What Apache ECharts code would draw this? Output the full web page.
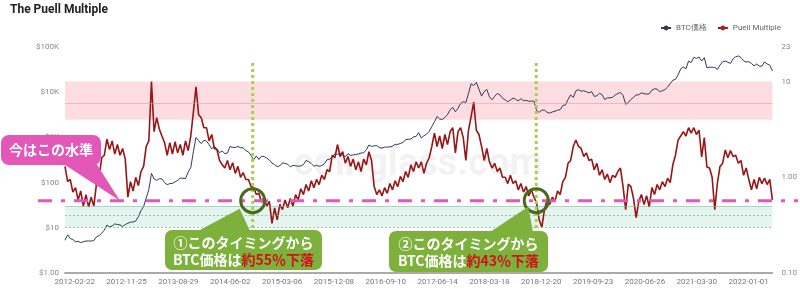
<!DOCTYPE html>
<html><head><meta charset="utf-8">
<script src="https://cdn.jsdelivr.net/npm/echarts@6/dist/echarts.min.js"></script>
<style>html,body{margin:0;padding:0;background:#fff}#c{width:800px;height:289px}</style>
</head><body><div id="c"></div>
<script>
// ---- data (sampled every 14 days from startDate) ----
const startDate = '2012-01-01';
const stepDays = 14;
const endDate = '2022-05-08';
const btcPrice = [
5.3,7.0,5.8,5.5,4.9,5.0,4.7,4.9,5.1,5.1,
5.1,5.2,6.3,6.7,7.6,8.9,11.5,10.5,11.0,12.2,
11.8,11.6,10.7,11.8,12.6,13.3,13.4,14.2,17.5,24,
29.5,46,70,160,120,112,122,121,100,90,
95,96,104,112,125,125,123,170,215,480,
1000,850,730,860,830,690,560,630,560,460,
500,440,450,630,600,600,630,590,590,510,
480,400,320,390,325,385,375,350,315,270,
250,225,235,275,265,255,223,240,236,230,
234,250,310,290,265,230,240,230,238,262,
320,330,370,440,420,448,400,375,438,400,
410,420,430,450,455,530,680,630,650,660,
590,580,610,610,615,640,700,700,735,770,
890,910,920,1020,1050,1270,970,1090,1180,1350,
1750,2200,2900,2550,2500,2750,3220,4100,4600,3700,
4400,5700,6150,5950,9300,15300,14000,16500,11600,8200,
10400,11500,7900,6800,8100,9400,8700,7350,6800,6150,
6750,7400,7000,6400,7200,6500,6600,6300,6350,6350,
3900,3600,4000,4000,3600,3450,3650,3800,4000,4100,
5100,5200,6900,8700,7650,10700,11400,10500,10800,10200,
9700,10300,8100,8300,9500,8800,6900,7500,7500,7700,
8700,9300,9900,8500,5400,5900,6900,7700,8700,8800,
9650,9300,9070,9200,11100,11900,11700,10300,10800,11400,
13000,15500,18400,19200,24000,32800,36000,33100,48700,45200,
59000,55800,59800,49000,58200,34700,35800,35600,35300,31800,
39900,47000,48800,46000,43200,54900,60900,63300,58700,49400,
46700,47300,43100,38200,42000,37700,37800,46800,42200,39500,
29500];
const puellMultiple = [
1.3,0.9,0.95,0.7,0.78,0.58,0.72,0.5,0.66,0.49,
0.62,0.5,0.85,1.0,1.6,1.7,2.5,1.95,2.4,1.75,
2.2,1.7,2.0,1.55,0.62,0.9,0.72,1.0,0.82,1.15,
1.3,2.1,2.4,10.0,3.0,4.2,3.2,2.7,2.3,1.7,
2.3,1.75,2.35,1.8,2.2,1.7,2.4,1.9,2.7,4.8,
8.8,4.5,4.2,3.3,3.3,2.4,2.8,2.0,1.95,1.5,
1.35,1.25,1.5,1.2,1.42,1.1,1.3,1.0,1.12,0.95,
0.95,0.8,0.78,0.66,0.68,0.55,0.62,0.5,0.56,0.33,
0.48,0.36,0.52,0.46,0.58,0.48,0.60,0.50,0.66,0.58,
0.76,0.66,0.84,0.72,0.92,0.78,0.95,0.84,1.05,0.95,
1.2,1.15,1.7,1.6,2.2,1.65,1.85,1.4,1.65,1.3,
1.55,1.2,1.45,1.15,1.55,1.35,1.85,1.5,0.80,0.66,
0.74,0.64,0.78,0.68,0.86,0.74,0.92,0.8,1.02,0.9,
1.15,1.0,1.35,1.15,1.45,1.25,1.45,1.1,1.4,1.6,
2.1,2.9,2.1,2.7,2.0,2.8,2.2,3.0,3.3,1.8,
3.0,3.3,2.6,1.5,3.1,4.3,6.1,3.1,2.8,2.1,
1.5,2.0,1.45,1.25,1.4,1.15,1.25,1.0,1.0,0.86,
1.05,0.86,0.92,0.74,0.86,0.70,0.80,0.64,0.74,0.62,
0.54,0.36,0.30,0.46,0.58,0.52,0.62,0.56,0.72,0.66,
0.9,1.0,1.4,1.5,2.1,2.45,2.1,2.0,1.65,1.8,
1.5,1.55,1.2,1.4,1.05,1.2,0.95,1.08,0.88,1.05,
1.0,1.15,1.25,0.8,0.46,0.85,0.8,0.6,0.38,0.56,
0.66,0.52,0.64,0.49,0.78,0.66,0.84,0.74,0.9,0.8,
0.98,0.88,1.35,1.7,2.45,2.7,3.0,2.7,3.3,2.9,
3.3,2.8,3.1,1.63,2.6,1.28,1.25,1.0,0.46,0.87,
1.3,1.4,1.93,1.6,1.9,1.65,1.7,1.4,1.5,1.05,
1.25,0.95,0.74,0.95,0.76,1.0,0.86,0.98,0.84,0.95,
0.58];
const xTickLabels = ['2012-02-22','2012-11-25','2013-08-29','2014-06-02','2015-03-06','2015-12-08','2016-09-10','2017-06-14','2018-03-18','2018-12-20','2019-09-23','2020-06-26','2021-03-30','2022-01-01'];
const redZone = [4, 10];
const redZoneMid = 6;
const greenZone = [0.3, 0.5];
const greenLines = [0.4, 0.3];
const currentLevel = 0.57;
const eventDates = ['2014-09-30', '2018-11-23'];
const eventMarks = ['①', '②'];
const eventDrops = ['55', '43'];

// ---- helpers ----
const DAY = 86400000, T0 = Date.UTC(2012, 0, 1);
function dayNum(s){const p=s.split('-');return Math.round((Date.UTC(+p[0],p[1]-1,+p[2])-T0)/DAY);}
function dayStr(n){return new Date(T0+n*DAY).toISOString().slice(0,10);}
const s0 = dayNum(startDate);
const btcData = btcPrice.map((v,i)=>[s0+i*stepDays, v]);
const puellData = puellMultiple.map((v,i)=>[s0+i*stepDays, v]);
const xTicks = xTickLabels.map(dayNum);

const FONT = 'Roboto, "Noto Sans", sans-serif';
const JP = '"Noto Sans CJK JP", sans-serif';
const chart = echarts.init(document.getElementById('c'), null, {renderer:'canvas'});
const option = {
  animation:false,
  backgroundColor:'#fff',
  title:{text:'The Puell Multiple', left:10, top:4, padding:0,
    textStyle:{fontSize:12, fontWeight:'bold', color:'#222', fontFamily:FONT}},
  legend:{right:14, top:19, itemWidth:10, itemHeight:6, itemGap:10,
    textStyle:{fontSize:8, color:'#666', fontFamily:FONT},
    data:['BTC価格','Puell Multiple']},
  grid:{left:65, right:27, top:47, bottom:16},
  xAxis:{type:'value', min:s0, max:dayNum(endDate),
    axisLine:{show:true, lineStyle:{color:'#aaa', width:2}},
    axisTick:{show:false}, splitLine:{show:false},
    axisLabel:{customValues:xTicks, formatter:v=>dayStr(v), fontSize:8, color:'#777', margin:5, fontFamily:FONT}},
  yAxis:[
    {type:'log', logBase:10, min:1, max:100000, position:'left',
     axisLine:{show:false}, axisTick:{show:false}, splitLine:{show:false},
     axisLabel:{fontSize:8, color:'#888', margin:6, fontFamily:FONT,
       formatter:v=> v<10 ? '$'+v.toFixed(2) : v<1000 ? '$'+v : '$'+(v/1000)+'K'}},
    {type:'log', logBase:10, min:0.1, max:23, position:'right',
     axisLine:{show:false}, axisTick:{show:false}, splitLine:{show:false},
     axisLabel:{fontSize:8, color:'#888', margin:9, fontFamily:FONT,
       formatter:v=> v<10 ? v.toFixed(2) : String(Math.round(v))}}
  ],
  series:[
    {name:'BTC価格', type:'line', yAxisIndex:0, data:btcData, showSymbol:false, symbol:'circle',
     lineStyle:{color:'#2d3b58', width:1}, itemStyle:{color:'#2d3b58'}, z:3},
    {name:'Puell Multiple', type:'line', yAxisIndex:1, data:puellData, showSymbol:false, symbol:'circle',
     lineStyle:{color:'#981515', width:1.6}, itemStyle:{color:'#b02020'}, z:4,
     markArea:{silent:true, data:[
        [{yAxis:redZone[0], itemStyle:{color:'rgba(250,170,180,0.4)'}},{yAxis:redZone[1]}],
        [{yAxis:greenZone[0], itemStyle:{color:'rgba(150,210,190,0.25)'}},{yAxis:greenZone[1]}]
     ]},
     markLine:{silent:true, symbol:'none', label:{show:false}, data:[
        {yAxis:redZoneMid, lineStyle:{color:'rgba(235,150,160,0.55)', width:1, type:'solid'}},
        {yAxis:greenZone[1], lineStyle:{color:'rgba(120,190,165,0.6)', width:1, type:'solid'}},
        {yAxis:greenLines[0], lineStyle:{color:'rgba(110,195,160,0.8)', width:1, type:[2,2]}},
        {yAxis:greenLines[1], lineStyle:{color:'rgba(110,195,160,0.8)', width:1, type:[2,2]}}
     ]}}
  ]
};
chart.setOption(option);

function px(day, v){ return chart.convertToPixel({xAxisIndex:0, yAxisIndex:1}, [day, v]); }
const G = [];
G.push({type:'text', z:0, silent:true, x:418, y:165,
  style:{text:'coinglass.com', fontSize:38, fontWeight:'bold', fill:'rgba(0,0,0,0.05)', align:'center', verticalAlign:'middle', fontFamily:FONT}});
const yc = px(s0, currentLevel)[1];
G.push({type:'line', z:50, shape:{x1:38, y1:yc, x2:798, y2:yc},
  style:{stroke:'#e357b8', lineWidth:3, lineDash:[14,9,4,9]}});
const centers = eventDates.map(d => px(dayNum(d), currentLevel));
centers.forEach(c => {
  G.push({type:'line', z:51, shape:{x1:c[0], y1:63, x2:c[0], y2:268},
    style:{stroke:'#a9d04c', lineWidth:3, lineDash:[3,3]}});
});
centers.forEach(c => {
  G.push({type:'circle', z:52, shape:{cx:c[0], cy:c[1], r:12},
    style:{fill:null, stroke:'#4b6a1c', lineWidth:3}});
});
// pink callout
G.push({type:'polygon', z:60, shape:{points:[[62,163],[96,163],[120,yc]]}, style:{fill:'#e357b8'}});
G.push({type:'rect', z:60, shape:{x:1, y:135, width:100, height:30, r:8}, style:{fill:'#e357b8'}});
G.push({type:'text', z:61, x:51, y:150, style:{text:'今はこの水準', fontSize:14, fontWeight:'bold', fill:'#fff', align:'center', verticalAlign:'middle', fontFamily:JP}});
// green callouts
const boxes = [{x:165, y:230, w:157, h:40, base:[198,250], tip:[-13,8]}, {x:389, y:231, w:159, h:41, base:[490,533], tip:[-8,6]}];
boxes.forEach((b,i) => {
  const c = centers[i];
  G.push({type:'polygon', z:60, shape:{points:[[b.base[0], b.y+1],[b.base[1], b.y+1],[c[0]+b.tip[0], c[1]+b.tip[1]]]}, style:{fill:'#7db13c'}});
  G.push({type:'rect', z:60, shape:{x:b.x, y:b.y, width:b.w, height:b.h, r:7}, style:{fill:'#7db13c'}});
  const cx = b.x + b.w/2;
  G.push({type:'text', z:61, x:cx, y:b.y+12.5, style:{text:eventMarks[i]+'このタイミングから', fontSize:14, fontWeight:'bold', fill:'#fff', align:'center', verticalAlign:'middle', fontFamily:JP}});
  G.push({type:'text', z:61, x:cx, y:b.y+29.5, style:{text:'{w|BTC価格は}{r|約'+eventDrops[i]+'％下落}', align:'center', verticalAlign:'middle',
    rich:{w:{fontSize:14, fontWeight:'bold', fill:'#fff', fontFamily:JP}, r:{fontSize:14, fontWeight:'bold', fill:'#d0121b', fontFamily:JP}}}});
});
chart.setOption({graphic:G});
</script></body></html>
